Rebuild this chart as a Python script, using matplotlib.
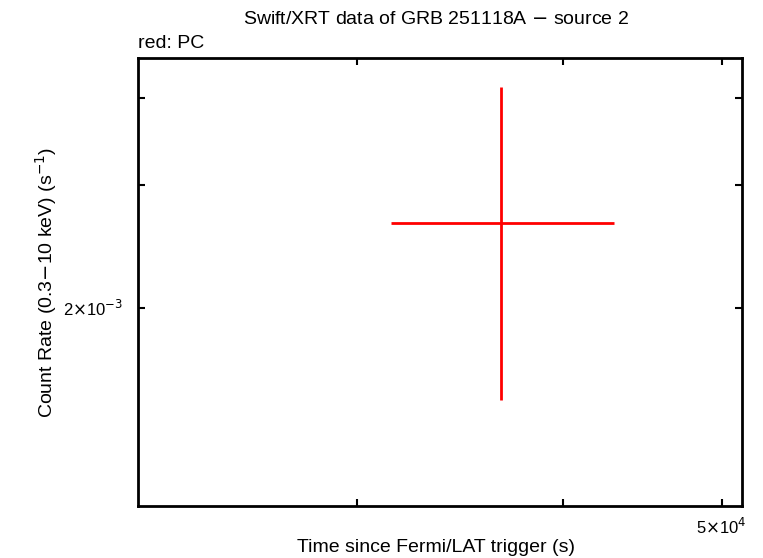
import matplotlib
matplotlib.use("Agg")
import matplotlib.pyplot as plt
from matplotlib.ticker import FixedLocator, NullFormatter, NullLocator

plt.rcParams['font.family'] = ['Liberation Sans', 'DejaVu Sans']

time = [36670]
time_err_lo = [36670 - 31430]
time_err_hi = [42980 - 36670]
rate = [2.649e-3]
rate_err_lo = [2.649e-3 - 1.476e-3]
rate_err_hi = [4.149e-3 - 2.649e-3]

xticks = [3e4, 4e4, 5e4]
xticklabels = ['', '', r'5$\times$10$^{4}$']
yticks = [2e-3, 3e-3, 4e-3]
yticklabels = [r'2$\times$10$^{-3}$', '', '']

fig = plt.figure(figsize=(7.63, 5.58), dpi=100)
ax = fig.add_axes([138/763, 1 - 506/558, (742-138)/763, (506-58)/558])
ax.set_xscale('log')
ax.set_yscale('log')
ax.errorbar(time, rate, xerr=[time_err_lo, time_err_hi], yerr=[rate_err_lo, rate_err_hi],
            fmt='none', ecolor='#ff0000', elinewidth=2, capsize=0)
ax.set_xlim(22060, 51440)
ax.set_ylim(1.039e-3, 4.565e-3)

ax.xaxis.set_major_locator(FixedLocator(xticks))
ax.set_xticklabels(xticklabels)
ax.xaxis.set_minor_locator(NullLocator())
ax.xaxis.set_minor_formatter(NullFormatter())
ax.yaxis.set_major_locator(FixedLocator(yticks))
ax.set_yticklabels(yticklabels)
ax.yaxis.set_minor_locator(NullLocator())
ax.yaxis.set_minor_formatter(NullFormatter())

ax.tick_params(which='both', direction='in', top=True, right=True, length=5, width=1.5,
               labelsize=12, pad=8)
ax.tick_params(axis='y', pad=11)
for s in ax.spines.values():
    s.set_linewidth(2)

fig.text(436/763, 1 - 547/558, 'Time since Fermi/LAT trigger (s)', ha='center', va='center', fontsize=14)
fig.text(46/763, 1 - 282/558, r'Count Rate (0.3$-$10 keV) (s$^{-1}$)', ha='center', va='center',
         rotation=90, fontsize=14)
fig.text(436/763, 1 - 20/558, r'Swift/XRT data of GRB 251118A $-$ source 2', ha='center', va='center', fontsize=14)
fig.text(138/763, 1 - 44/558, 'red: PC', ha='left', va='center', fontsize=14)

fig.savefig('out.png', dpi=100)
